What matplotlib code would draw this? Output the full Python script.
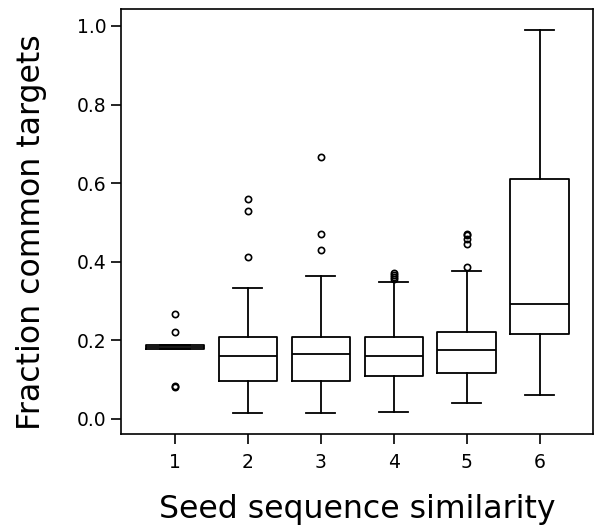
import matplotlib
matplotlib.use("Agg")
import matplotlib.pyplot as plt

categories = [1, 2, 3, 4, 5, 6]
q1 = [0.177, 0.097, 0.096, 0.110, 0.117, 0.217]
medians = [0.183, 0.161, 0.164, 0.161, 0.176, 0.293]
q3 = [0.189, 0.209, 0.208, 0.209, 0.222, 0.610]
whislo = [0.177, 0.015, 0.015, 0.017, 0.041, 0.061]
whishi = [0.189, 0.334, 0.363, 0.348, 0.377, 0.990]
fliers = [
    [0.266, 0.222, 0.083, 0.081],
    [0.413, 0.530, 0.559],
    [0.429, 0.470, 0.666],
    [0.355, 0.360, 0.366, 0.372],
    [0.386, 0.445, 0.457, 0.467, 0.471],
    [],
]
yticks = [0.0, 0.2, 0.4, 0.6, 0.8, 1.0]

stats = []
for i in range(len(categories)):
    stats.append(dict(med=medians[i], q1=q1[i], q3=q3[i],
                      whislo=whislo[i], whishi=whishi[i],
                      fliers=fliers[i], label=str(categories[i])))

fig = plt.figure(figsize=(5.94, 5.32), dpi=100)
ax = fig.add_axes([0.2037, 0.184, 0.7943, 0.799])

lw = 1.3
ax.bxp(stats, positions=categories, widths=0.8,
       boxprops=dict(color="black", linewidth=lw),
       medianprops=dict(color="black", linewidth=lw),
       whiskerprops=dict(color="black", linewidth=lw),
       capprops=dict(color="black", linewidth=lw),
       flierprops=dict(marker="o", markerfacecolor="none",
                       markeredgecolor="black", markersize=4.5,
                       markeredgewidth=1.2))

ax.set_xlim(0.26, 6.73)
ax.set_ylim(-0.039, 1.043)
ax.set_yticks(yticks)
ax.set_yticklabels([f"{v:.1f}" for v in yticks])
ax.set_xticks(categories)
ax.set_xticklabels([str(c) for c in categories])
ax.tick_params(labelsize=13.5, width=1.2, length=7)
ax.tick_params(axis="x", pad=6.5)
ax.tick_params(axis="y", pad=3.5)
for s in ax.spines.values():
    s.set_linewidth(1.2)

ax.set_xlabel("Seed sequence similarity", fontsize=22.7)
ax.set_ylabel("Fraction common targets", fontsize=22.7)
ax.xaxis.set_label_coords(0.5, -0.140)
ax.yaxis.set_label_coords(-0.156, 0.475)

fig.savefig("out.png", dpi=100)
